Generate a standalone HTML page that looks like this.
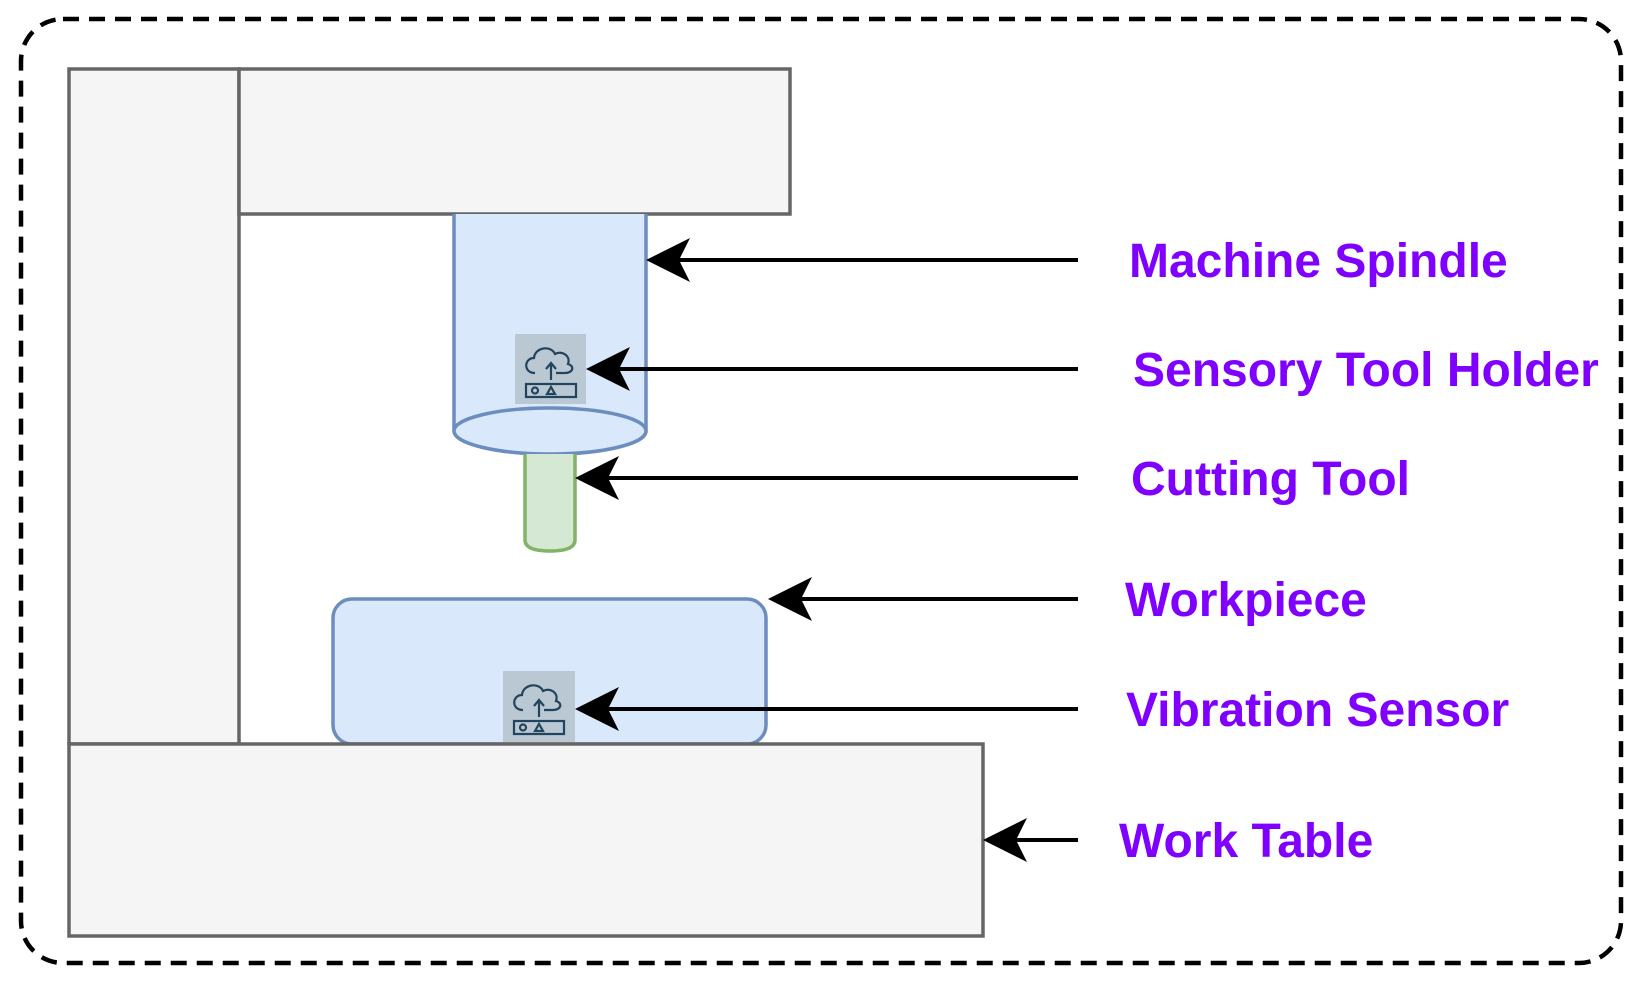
<!DOCTYPE html>
<html><head><style>
html,body{margin:0;padding:0;background:#fff;}
svg{display:block;}
text{font-family:"Liberation Sans",sans-serif;font-weight:bold;font-size:48px;fill:#7F00FF;}
</style></head><body>
<svg width="1644" height="981" viewBox="0 0 1644 981" xmlns="http://www.w3.org/2000/svg">
<rect x="21" y="19" width="1600" height="944" rx="42" fill="none" stroke="#000" stroke-width="4.5" stroke-dasharray="16 10"/>
<rect x="69" y="69" width="170" height="675" fill="#f5f5f5" stroke="#666" stroke-width="3.5"/>
<rect x="239" y="69" width="551" height="145" fill="#f5f5f5" stroke="#666" stroke-width="3.5"/>
<!-- spindle -->
<path d="M454 214 V431 A96 23 0 0 0 646 431 V214" fill="#dae8fc" stroke="#6c8ebf" stroke-width="3.5"/>
<ellipse cx="550" cy="431" rx="96" ry="23" fill="#dae8fc" stroke="#6c8ebf" stroke-width="3.5"/>
<!-- icon 1 -->
<g transform="translate(515,334)">
<rect width="71" height="70" fill="#bac8d3"/>
<g fill="none" stroke="#23445d" stroke-width="2.2">
<path d="M20 39 C8 39 9 24 19 24 C20 13 36 11 40 20 C47 16 56 22 53 30 C60 32 58 39 50 39 H41"/>
<path d="M36 46 V30 M31 35 L36 29 L41 35"/>
<rect x="11" y="50" width="50" height="13"/>
<circle cx="20" cy="56.5" r="3"/>
<path d="M32 60 L36 53 L40 60 Z"/>
</g></g>
<!-- cutting tool -->
<path d="M525 454 V540 Q525 551 550 551 Q575 551 575 540 V454" fill="#d5e8d4" stroke="#82b366" stroke-width="3.5"/>
<!-- workpiece -->
<rect x="333" y="599" width="433" height="145" rx="19" fill="#dae8fc" stroke="#6c8ebf" stroke-width="3.5"/>
<g transform="translate(503,671)">
<rect width="72" height="71" fill="#bac8d3"/>
<g fill="none" stroke="#23445d" stroke-width="2.2">
<path d="M20 39 C8 39 9 24 19 24 C20 13 36 11 40 20 C47 16 56 22 53 30 C60 32 58 39 50 39 H41"/>
<path d="M36 46 V30 M31 35 L36 29 L41 35"/>
<rect x="11" y="50" width="50" height="13"/>
<circle cx="20" cy="56.5" r="3"/>
<path d="M32 60 L36 53 L40 60 Z"/>
</g></g>
<rect x="69" y="744" width="914" height="192" fill="#f5f5f5" stroke="#666" stroke-width="3.5"/>
<!-- arrows -->
<g stroke="#000" stroke-width="4">
<line x1="1078" y1="260" x2="668" y2="260"/>
<line x1="1078" y1="369" x2="608" y2="369"/>
<line x1="1078" y1="478" x2="598" y2="478"/>
<line x1="1078" y1="599" x2="790" y2="599"/>
<line x1="1078" y1="709" x2="596" y2="709"/>
<line x1="1078" y1="840" x2="1006" y2="840"/>
</g>
<g fill="#000">
<path d="M646 260 l44 -22 l-11 22 l11 22 z"/>
<path d="M586 369 l44 -22 l-11 22 l11 22 z"/>
<path d="M575 478 l44 -22 l-11 22 l11 22 z"/>
<path d="M768 599 l44 -22 l-11 22 l11 22 z"/>
<path d="M575 709 l44 -22 l-11 22 l11 22 z"/>
<path d="M983 840 l44 -22 l-11 22 l11 22 z"/>
</g>
<text x="1129" y="277">Machine Spindle</text>
<text x="1133" y="386">Sensory Tool Holder</text>
<text x="1131" y="495">Cutting Tool</text>
<text x="1125" y="616">Workpiece</text>
<text x="1126" y="726">Vibration Sensor</text>
<text x="1119" y="857">Work Table</text>
</svg>
</body></html>
